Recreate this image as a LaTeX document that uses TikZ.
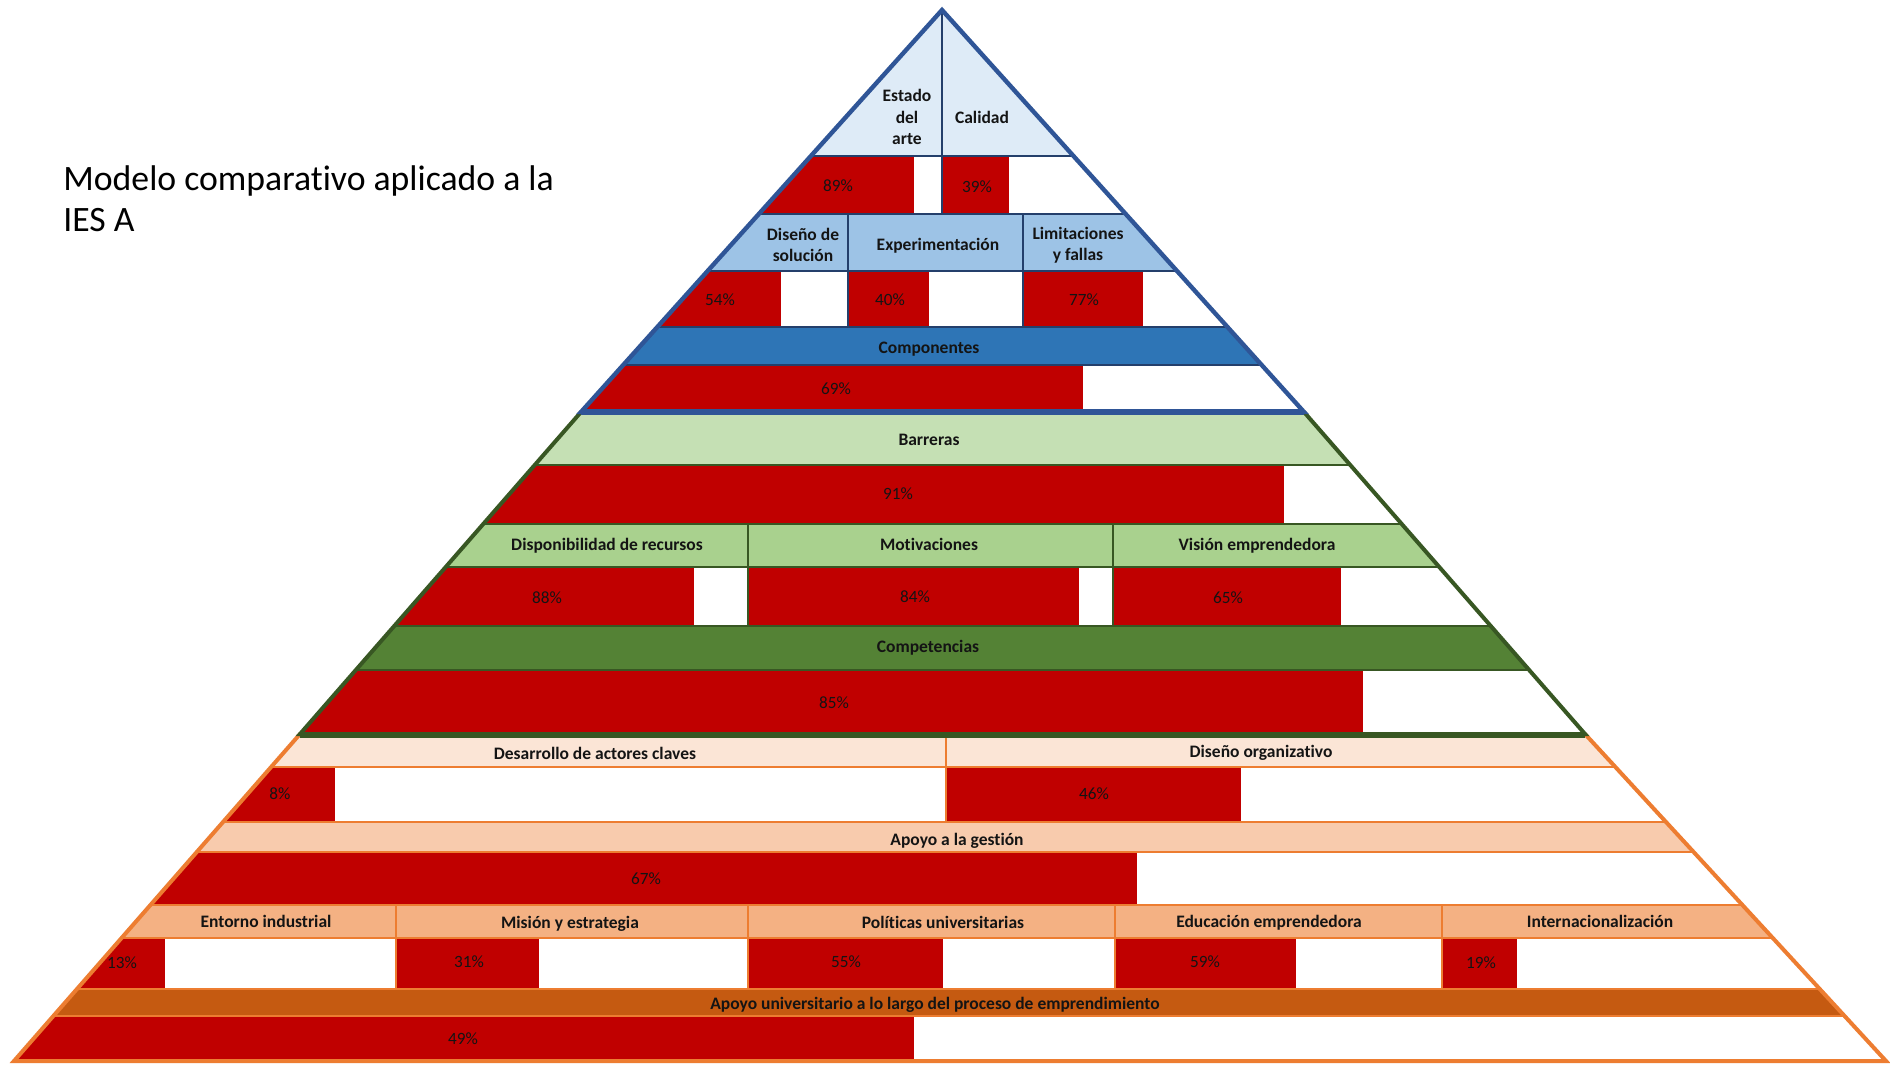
\documentclass[tikz,border=0pt]{standalone}
\usepackage{fontspec}
\setmainfont{Carlito}[Ligatures=CommonOff]
\definecolor{blueline}{HTML}{2F5597}
\definecolor{bluediv}{HTML}{243F6B}
\definecolor{blueA}{HTML}{DEEBF7}
\definecolor{blueB}{HTML}{9DC3E6}
\definecolor{blueC}{HTML}{2E75B6}
\definecolor{greenline}{HTML}{385723}
\definecolor{greenA}{HTML}{C5E0B4}
\definecolor{greenB}{HTML}{A9D18E}
\definecolor{greenC}{HTML}{548235}
\definecolor{orangeline}{HTML}{ED7D31}
\definecolor{orangeA}{HTML}{FBE5D6}
\definecolor{orangeB}{HTML}{F8CBAD}
\definecolor{orangeC}{HTML}{F4B183}
\definecolor{orangeD}{HTML}{C55A11}
\definecolor{barred}{HTML}{C00000}
\definecolor{ink}{HTML}{141414}
\tikzset{
  head/.style={font=\fontsize{8.75pt}{10.5pt}\selectfont\bfseries, text=ink,
    inner sep=0pt, text height=0.64em, text depth=0pt},
  headml/.style={font=\fontsize{8.75pt}{10.6pt}\selectfont\bfseries, text=ink,
    inner sep=0pt, align=center},
  pct/.style={font=\fontsize{8.6pt}{10pt}\selectfont, text=ink,
    inner sep=0pt, text height=0.64em, text depth=0pt},
  titletext/.style={font=\fontsize{17.85pt}{20.5pt}\selectfont, text=black,
    inner sep=0pt, anchor=base west},
  bluesep/.style={draw=bluediv, line width=1pt},
  greensep/.style={draw=greenline, line width=0.9pt},
  orangesep/.style={draw=orangeline, line width=1pt},
}
\begin{document}
\begin{tikzpicture}[x=0.5pt,y=-0.5pt]
\useasboundingbox (0,0) rectangle (1890,1066);
\fill[white] (0,0) rectangle (1890,1066);

% title
\node[titletext] (title) at (63,190) {Modelo comparativo aplicado a la};
\node[titletext] (titleb) at (63,231) {IES A};

% ---------- lower tier (orange) ----------
\begin{scope}
  \clip (300,734) -- (1585,734) -- (1886,1061) -- (14,1061) -- cycle;
  \fill[orangeA] (0,730) rectangle (1900,767);
  \fill[barred] (0,767) rectangle (335,822);
  \fill[white] (335,767) rectangle (946,822);
  \fill[barred] (946,767) rectangle (1241,822);
  \fill[white] (1241,767) rectangle (1900,822);
  \fill[orangeB] (0,822) rectangle (1900,852);
  \fill[barred] (0,852) rectangle (1137,905);
  \fill[white] (1137,852) rectangle (1900,905);
  \fill[orangeC] (0,905) rectangle (1900,938);
  \fill[barred] (0,938) rectangle (165,989);
  \fill[white] (165,938) rectangle (396,989);
  \fill[barred] (396,938) rectangle (539,989);
  \fill[white] (539,938) rectangle (748,989);
  \fill[barred] (748,938) rectangle (943,989);
  \fill[white] (943,938) rectangle (1115,989);
  \fill[barred] (1115,938) rectangle (1296,989);
  \fill[white] (1296,938) rectangle (1442,989);
  \fill[barred] (1442,938) rectangle (1517,989);
  \fill[white] (1517,938) rectangle (1900,989);
  \fill[orangeD] (0,989) rectangle (1900,1016);
  \fill[barred] (0,1016) rectangle (914,1070);
  \fill[white] (914,1016) rectangle (1900,1070);
  \foreach \yy in {767,822,852,905,938,989,1016}
    \draw[orangesep] (0,\yy) -- (1900,\yy);
  \draw[orangesep] (946,734) -- (946,822);
  \foreach \xx in {396,748,1115,1442}
    \draw[orangesep] (\xx,905) -- (\xx,989);
\end{scope}
\draw[orangeline, line width=2pt, line join=miter]
  (300,734) -- (14,1061) -- (1886,1061) -- (1585,734);

% ---------- middle tier (green) ----------
\begin{scope}
  \clip (581,412) -- (1304,412) -- (1585,734) -- (300,734) -- cycle;
  \fill[greenA] (200,405) rectangle (1700,465);
  \fill[barred] (200,465) rectangle (1284,524);
  \fill[white] (1284,465) rectangle (1700,524);
  \fill[greenB] (200,524) rectangle (1700,567);
  \fill[barred] (200,567) rectangle (694,626);
  \fill[white] (694,567) rectangle (748,626);
  \fill[barred] (748,567) rectangle (1079,626);
  \fill[white] (1079,567) rectangle (1113,626);
  \fill[barred] (1113,567) rectangle (1341,626);
  \fill[white] (1341,567) rectangle (1700,626);
  \fill[greenC] (200,626) rectangle (1700,670);
  \fill[barred] (200,670) rectangle (1363,740);
  \fill[white] (1363,670) rectangle (1700,740);
  \foreach \yy in {465,524,567,626,670}
    \draw[greensep] (200,\yy) -- (1700,\yy);
  \foreach \xx in {748,1113}
    \draw[greensep] (\xx,524) -- (\xx,626);
\end{scope}
\draw[greenline, line width=2pt, line join=miter]
  (581,412) -- (300,734) -- (1585,734) -- (1304,412);
\draw[greenline, line width=3.2pt] (300,735) -- (1585,735);

% ---------- upper tier (blue) ----------
\begin{scope}
  \clip (942,10) -- (1304,412) -- (581,412) -- cycle;
  \fill[blueA] (500,0) rectangle (1400,156);
  \fill[barred] (500,156) rectangle (914,214);
  \fill[white] (914,156) rectangle (942,214);
  \fill[barred] (942,156) rectangle (1009,214);
  \fill[white] (1009,156) rectangle (1400,214);
  \fill[blueB] (500,214) rectangle (1400,271);
  \fill[barred] (500,271) rectangle (781,327);
  \fill[white] (781,271) rectangle (848,327);
  \fill[barred] (848,271) rectangle (929,327);
  \fill[white] (929,271) rectangle (1023,327);
  \fill[barred] (1023,271) rectangle (1143,327);
  \fill[white] (1143,271) rectangle (1400,327);
  \fill[blueC] (500,327) rectangle (1400,365);
  \fill[barred] (500,365) rectangle (1083,420);
  \fill[white] (1083,365) rectangle (1400,420);
  \foreach \yy in {156,214,271,327,365}
    \draw[bluesep] (500,\yy) -- (1400,\yy);
  \draw[bluesep] (942,0) -- (942,214);
  \draw[bluesep] (848,214) -- (848,327);
  \draw[bluesep] (1023,214) -- (1023,327);
\end{scope}
\draw[blueline, line width=2.2pt, line join=miter]
  (942,10) -- (1304,412) -- (581,412) -- cycle;
\draw[blueline, line width=2.6pt] (581,412) -- (1304,412);

% ---------- labels, upper tier ----------
\node[headml] (estado) at (907,117) {Estado\\del\\arte};
\node[head] (calidad) at (982,117) {Calidad};
\node[pct] (p89) at (838,185) {89\%};
\node[pct] (p39) at (977,186) {39\%};
\node[headml] (diseno) at (803,245) {Diseño de\\solución};
\node[head] (experim) at (938,244) {Experimentación};
\node[headml] (limit) at (1078,245) {Limitaciones\\y fallas};
\node[pct] (p54) at (720,299) {54\%};
\node[pct] (p40) at (890,299) {40\%};
\node[pct] (p77) at (1084,299) {77\%};
\node[head] (compon) at (929,347) {Componentes};
\node[pct] (p69) at (836,388) {69\%};

% ---------- labels, middle tier ----------
\node[head] (barreras) at (929,439) {Barreras};
\node[pct] (p91) at (898,493) {91\%};
\node[head] (dispon) at (607,544) {Disponibilidad de recursos};
\node[head] (motiv) at (929,544) {Motivaciones};
\node[head] (vision) at (1257,544) {Visión emprendedora};
\node[pct] (p88) at (547,597) {88\%};
\node[pct] (p84) at (915,596) {84\%};
\node[pct] (p65) at (1228,597) {65\%};
\node[head] (compet) at (928,646) {Competencias};
\node[pct] (p85) at (834,702) {85\%};

% ---------- labels, lower tier ----------
\node[head] (desarr) at (595,753) {Desarrollo de actores claves};
\node[head] (disorg) at (1261,751) {Diseño organizativo};
\node[pct] (p8) at (280,793) {8\%};
\node[pct] (p46) at (1094,793) {46\%};
\node[head] (apoyog) at (957,839) {Apoyo a la gestión};
\node[pct] (p67) at (646,878) {67\%};
\node[head] (entorno) at (266,921) {Entorno industrial};
\node[head] (mision) at (570,922) {Misión y estrategia};
\node[head] (politic) at (943,922) {Políticas universitarias};
\node[head] (educ) at (1269,921) {Educación emprendedora};
\node[head] (intern) at (1600,921) {Internacionalización};
\node[pct] (p13) at (122,962) {13\%};
\node[pct] (p31) at (469,961) {31\%};
\node[pct] (p55) at (846,961) {55\%};
\node[pct] (p59) at (1205,961) {59\%};
\node[pct] (p19) at (1481,962) {19\%};
\node[head] (apoyou) at (935,1003) {Apoyo universitario a lo largo del proceso de emprendimiento};
\node[pct] (p49) at (463,1038) {49\%};
\end{tikzpicture}
\end{document}
